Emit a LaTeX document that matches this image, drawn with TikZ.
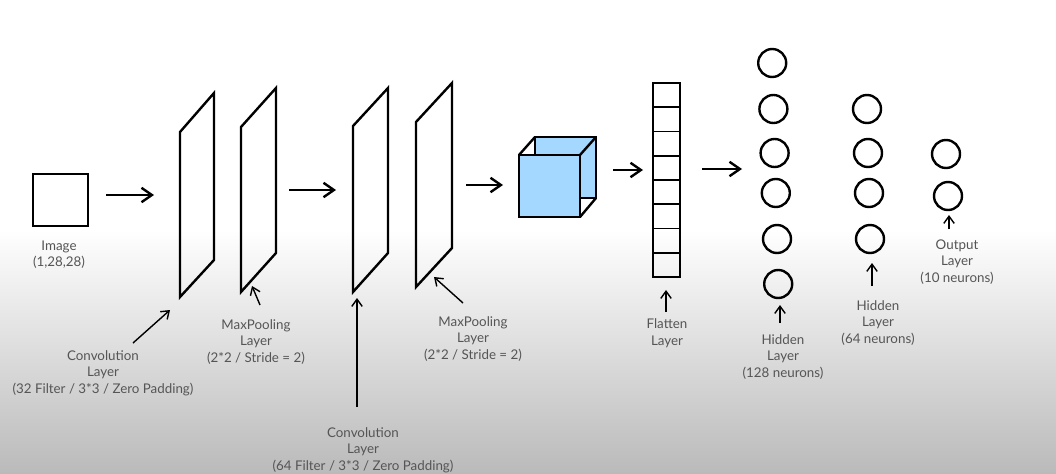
\documentclass[tikz,border=0pt]{standalone}
\usepackage{fontspec}
\setmainfont{Lato}
\usetikzlibrary{arrows.meta}
\definecolor{cubeblue}{HTML}{A5D8FF}
\definecolor{lblgray}{HTML}{555555}
\tikzset{every path/.style={line width=1.7pt}}
\tikzset{
  flow/.style={-{Straight Barb[length=2.6mm,width=3.6mm]}},
  pointer/.style={line width=1pt,-{Straight Barb[length=1.8mm,width=2.6mm]}},
  lbl/.style={align=center,text=lblgray,font=\fontsize{9.5}{11.8}\selectfont},
  neuron/.style={circle,draw,line width=1.7pt,minimum size=28*0.025cm,inner sep=0pt},
}

\begin{document}
\begin{tikzpicture}[x=0.025cm,y=-0.025cm]
\useasboundingbox (0,0) rectangle (1056,473);
\fill[white] (0,0) rectangle (1056,231);
\shade[top color=white,bottom color=black!27,draw=none] (0,230) rectangle (1056,473);

% input image
\node[draw,line width=1.7pt,minimum width=55*0.025cm,minimum height=52*0.025cm,inner sep=0pt] (img) at (60.5,200) {};
\node[lbl] (imglbl) at (59,254.5) {Image\\(1,28,28)};

% conv / pool layers
\draw (180,132) -- (214,93) -- (214,260) -- (180,297) -- cycle;
\draw (241,127) -- (276,88) -- (276,253) -- (241,292) -- cycle;
\draw (353,126) -- (388,88) -- (388,253) -- (353,292) -- cycle;
\draw (416,122) -- (452,83) -- (452,248) -- (416,287) -- cycle;

% flow arrows
\coordinate (a1s) at (106,195); \coordinate (a1e) at (154,195);
\coordinate (a2s) at (289,190); \coordinate (a2e) at (336,190);
\coordinate (a3s) at (466,185); \coordinate (a3e) at (503,185);
\coordinate (a4s) at (613,170); \coordinate (a4e) at (643,170);
\coordinate (a5s) at (702,169); \coordinate (a5e) at (742,169);
\draw[flow] (a1s) -- (a1e);
\draw[flow] (a2s) -- (a2e);
\draw[flow] (a3s) -- (a3e);
\draw[flow] (a4s) -- (a4e);
\draw[flow] (a5s) -- (a5e);

% cube
\draw[fill=cubeblue] (535,137) rectangle (596,198);
\draw (519,155) -- (535,137);
\draw (580,155) -- (596,137);
\draw (580,217) -- (596,198);
\draw[fill=cubeblue] (519,155) rectangle (580,217);

% flatten
\node[draw,line width=1.7pt,minimum width=27*0.025cm,minimum height=194*0.025cm,inner sep=0pt] (flat) at (666.5,180) {};
\foreach \i in {1,...,7}
  \draw[line width=1.3pt] (653,83+24.25*\i) -- (680,83+24.25*\i);

% dense layers
\foreach \y [count=\i] in {63,109,153,193,239,284}
  \node[neuron] (h\i) at (771+1.2*\i,\y) {};
\foreach \y [count=\i] in {109,153,193,239}
  \node[neuron] (g\i) at (866+1*\i,\y) {};
\node[neuron] (o1) at (946,154) {};
\node[neuron] (o2) at (948,196) {};

% labels
\node[lbl] (conv1lbl) at (103,373) {Convolution\\Layer\\(32 Filter / 3*3 / Zero Padding)};
\node[lbl] (pool1lbl) at (256,342) {MaxPooling\\Layer\\(2*2 / Stride = 2)};
\node[lbl] (conv2lbl) at (363,450) {Convolution\\Layer\\(64 Filter / 3*3 / Zero Padding)};
\node[lbl] (pool2lbl) at (473,339) {MaxPooling\\Layer\\(2*2 / Stride = 2)};
\node[lbl] (flatlbl) at (667,333.5) {Flatten\\Layer};
\node[lbl] (h128lbl) at (783,357) {Hidden\\Layer\\(128 neurons)};
\node[lbl] (h64lbl) at (878,323) {Hidden\\Layer\\(64 neurons)};
\node[lbl] (outlbl) at (957,262) {Output\\Layer\\(10 neurons)};

% pointers
\coordinate (p1s) at (133,343); \coordinate (p1e) at (170,310);
\coordinate (p2s) at (260,305); \coordinate (p2e) at (252,286);
\coordinate (p3s) at (357,407); \coordinate (p3e) at (357,298);
\coordinate (p4s) at (463,303); \coordinate (p4e) at (434,277);
\coordinate (p5s) at (666,312); \coordinate (p5e) at (666,290);
\coordinate (p6s) at (780,323); \coordinate (p6e) at (780,305);
\coordinate (p7s) at (872,286); \coordinate (p7e) at (872,263);
\coordinate (p8s) at (949,229); \coordinate (p8e) at (949,215);
\foreach \p in {1,...,8}
  \draw[pointer] (p\p s) -- (p\p e);
\end{tikzpicture}
\end{document}
